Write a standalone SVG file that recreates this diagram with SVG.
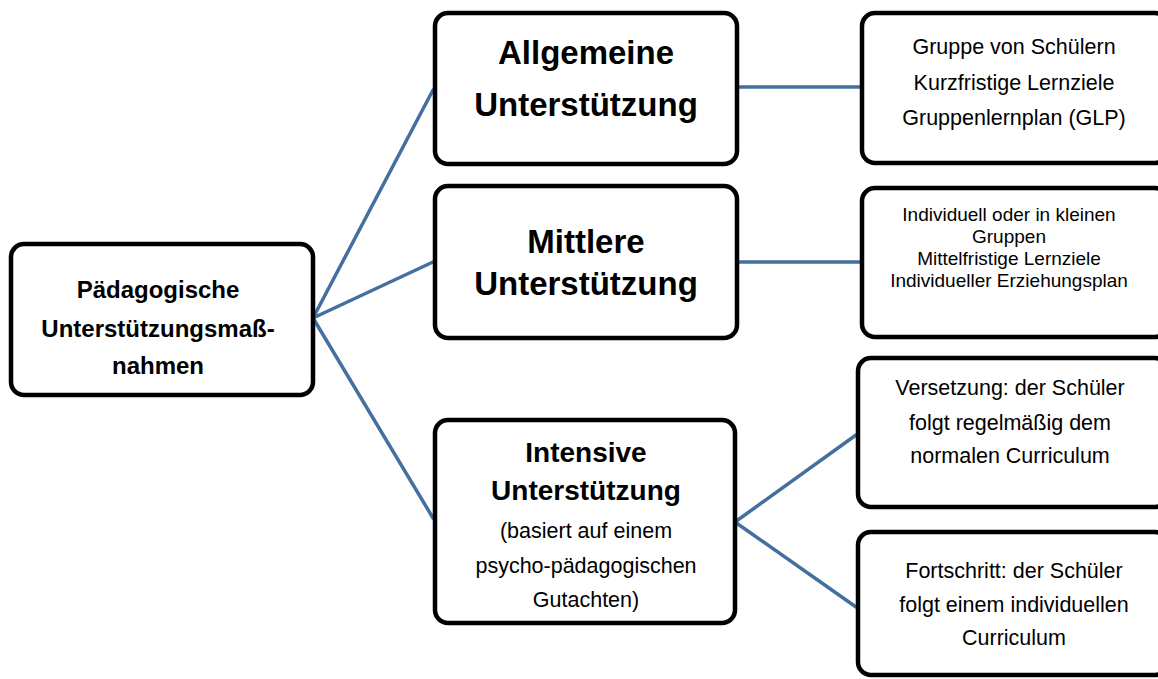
<svg xmlns="http://www.w3.org/2000/svg" width="1158" height="679" viewBox="0 0 1158 679">
<style>
.box{fill:#fff;stroke:#000;stroke-width:4.5}
.con{stroke:#44709f;stroke-width:3.5;fill:none;stroke-linecap:round}
text{font-family:"Liberation Sans",Arial,sans-serif;fill:#000;text-anchor:middle}
.b{font-weight:bold}
.t1{font-size:24px}
.t2{font-size:33px}
.t3{font-size:28px}
.r{font-size:21.5px}
.s{font-size:19px}
</style>
<rect width="1158" height="679" fill="#fff"/>
<g id="connectors">
<line class="con" x1="313" y1="318" x2="433" y2="90"/>
<line class="con" x1="313" y1="318" x2="433" y2="262"/>
<line class="con" x1="313" y1="318" x2="433" y2="518"/>
<line class="con" x1="737" y1="87" x2="862" y2="87"/>
<line class="con" x1="737" y1="262" x2="862" y2="262"/>
<line class="con" x1="735" y1="522" x2="856" y2="435"/>
<line class="con" x1="735" y1="522" x2="856" y2="607"/>
</g>
<g id="root">
<rect class="box" x="11" y="244" width="302" height="151" rx="13"/>
<text class="b t1" x="158" y="298">Pädagogische</text>
<text class="b t1" x="158" y="337">Unterstützungsmaß-</text>
<text class="b t1" x="158" y="374">nahmen</text>
</g>
<g id="allgemeine">
<rect class="box" x="435" y="13" width="302" height="151" rx="13"/>
<text class="b t2" x="586" y="64">Allgemeine</text>
<text class="b t2" x="586" y="116">Unterstützung</text>
</g>
<g id="mittlere">
<rect class="box" x="435" y="186" width="302" height="152" rx="13"/>
<text class="b t2" x="586" y="253">Mittlere</text>
<text class="b t2" x="586" y="295">Unterstützung</text>
</g>
<g id="intensive">
<rect class="box" x="435" y="420" width="300" height="203" rx="13"/>
<text class="b t3" x="586" y="462">Intensive</text>
<text class="b t3" x="586" y="500">Unterstützung</text>
<text class="r" x="586" y="538">(basiert auf einem</text>
<text class="r" x="586" y="573">psycho-pädagogischen</text>
<text class="r" x="586" y="607">Gutachten)</text>
</g>
<g id="gruppe">
<rect class="box" x="862" y="13" width="306" height="150" rx="13"/>
<text class="r" x="1014" y="54">Gruppe von Schülern</text>
<text class="r" x="1014" y="90">Kurzfristige Lernziele</text>
<text class="r" x="1014" y="125">Gruppenlernplan (GLP)</text>
</g>
<g id="individuell">
<rect class="box" x="862" y="188" width="306" height="149" rx="13"/>
<text class="s" x="1009" y="221">Individuell oder in kleinen</text>
<text class="s" x="1009" y="243">Gruppen</text>
<text class="s" x="1009" y="265">Mittelfristige Lernziele</text>
<text class="s" x="1009" y="287">Individueller Erziehungsplan</text>
</g>
<g id="versetzung">
<rect class="box" x="858" y="358" width="310" height="149" rx="13"/>
<text class="r" x="1010" y="395">Versetzung: der Schüler</text>
<text class="r" x="1010" y="430">folgt regelmäßig dem</text>
<text class="r" x="1010" y="463">normalen Curriculum</text>
</g>
<g id="fortschritt">
<rect class="box" x="858" y="532" width="310" height="143" rx="13"/>
<text class="r" x="1014" y="578">Fortschritt: der Schüler</text>
<text class="r" x="1014" y="612">folgt einem individuellen</text>
<text class="r" x="1014" y="645">Curriculum</text>
</g>
</svg>
